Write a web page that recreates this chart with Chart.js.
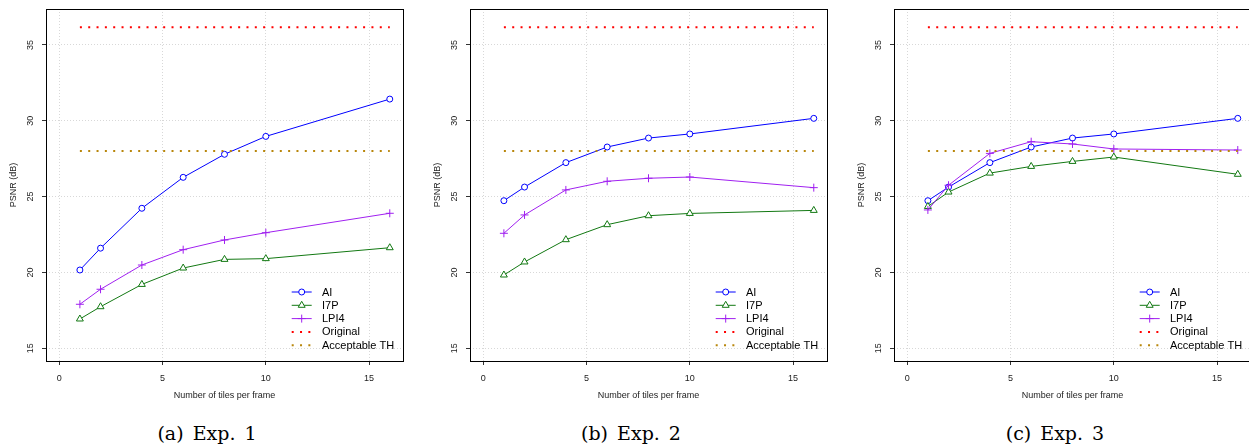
<!DOCTYPE html>
<html>
<head>
<meta charset="utf-8">
<script src="https://cdn.jsdelivr.net/npm/chart.js@4/dist/chart.umd.min.js"></script>
<style>
  html, body { margin: 0; padding: 0; background: #fff; }
  body { width: 1249px; height: 447px; overflow: hidden; position: relative; }
  .panel { position: absolute; top: 0; width: 424px; height: 447px; }
  .panel canvas { position: absolute; left: 0; top: 0; }
  .caption { position: absolute; left: 0; width: 414px; top: 422px; text-align: center;
    font-family: "DejaVu Serif", "Liberation Serif", serif; font-size: 19px; line-height: 23px;
    color: #000; word-spacing: 3px; }
</style>
</head>
<body>
<div class="panel" style="left:0px"><canvas id="c1" width="424" height="410"></canvas><div class="caption">(a) Exp. 1</div></div>
<div class="panel" style="left:424px"><canvas id="c2" width="424" height="410"></canvas><div class="caption">(b) Exp. 2</div></div>
<div class="panel" style="left:848px"><canvas id="c3" width="424" height="410"></canvas><div class="caption">(c) Exp. 3</div></div>
<script>
// ---- data ----
const tiles = [1, 2, 4, 6, 8, 10, 16];
const exp1AI   = [20.16, 21.60, 24.23, 26.27, 27.79, 28.97, 31.43];
const exp1I7P  = [16.93, 17.74, 19.21, 20.29, 20.86, 20.91, 21.63];
const exp1LPI4 = [17.90, 18.89, 20.49, 21.50, 22.14, 22.62, 23.90];
const exp2AI   = [24.73, 25.63, 27.24, 28.27, 28.86, 29.13, 30.16];
const exp2I7P  = [19.83, 20.69, 22.16, 23.15, 23.74, 23.89, 24.09];
const exp2LPI4 = [22.58, 23.79, 25.44, 26.01, 26.21, 26.29, 25.59];
const exp3AI   = [24.73, 25.63, 27.24, 28.27, 28.86, 29.13, 30.16];
const exp3I7P  = [24.35, 25.30, 26.55, 26.99, 27.32, 27.61, 26.47];
const exp3LPI4 = [24.12, 25.75, 27.85, 28.62, 28.47, 28.14, 28.07];
const originalPSNR = 36.16;
const acceptableTH = 28.0;
const xTicks = [0, 5, 10, 15];
const yTicks = [15, 20, 25, 30, 35];
const seriesNames = ['AI', 'I7P', 'LPI4', 'Original', 'Acceptable TH'];

// ---- styles ----
const FONT = '"Liberation Sans", Arial, Helvetica, sans-serif';
const COLORS = { AI: '#0000ff', I7P: '#127812', LPI4: '#a020f0', Original: '#ff0000', TH: '#b8860b' };
const DOT = [2, 6.33];

function xy(ys) { return tiles.map((t, i) => ({ x: t, y: ys[i] })); }
function flat(v) { return [{ x: tiles[0], y: v }, { x: tiles[tiles.length - 1], y: v }]; }

function drawMarker(ctx, style, x, y, color) {
  ctx.save();
  ctx.strokeStyle = color; ctx.lineWidth = 1; ctx.fillStyle = '#fff';
  ctx.setLineDash([]);
  ctx.beginPath();
  if (style === 'circle') {
    ctx.arc(x, y, 3, 0, Math.PI * 2); ctx.fill(); ctx.stroke();
  } else if (style === 'triangle') {
    const r = 4;
    ctx.moveTo(x, y - r);
    ctx.lineTo(x + r * Math.sin(2 * Math.PI / 3), y - r * Math.cos(2 * Math.PI / 3));
    ctx.lineTo(x + r * Math.sin(4 * Math.PI / 3), y - r * Math.cos(4 * Math.PI / 3));
    ctx.closePath(); ctx.fill(); ctx.stroke();
  } else if (style === 'cross') {
    ctx.moveTo(x - 4, y); ctx.lineTo(x + 4, y);
    ctx.moveTo(x, y - 4); ctx.lineTo(x, y + 4); ctx.stroke();
  }
  ctx.restore();
}

const decor = {
  id: 'decor',
  afterDraw(chart) {
    const { ctx, chartArea: ca, scales } = chart;
    ctx.save();
    // box
    ctx.strokeStyle = '#000'; ctx.lineWidth = 1; ctx.setLineDash([]);
    ctx.strokeRect(ca.left + 0.5, ca.top + 0.5, ca.right - ca.left, ca.bottom - ca.top);
    // rotated y tick labels
    ctx.fillStyle = '#222'; ctx.font = '9px ' + FONT;
    ctx.textAlign = 'center'; ctx.textBaseline = 'middle';
    scales.y.ticks.forEach(t => {
      const py = scales.y.getPixelForValue(t.value);
      ctx.save(); ctx.translate(ca.left - 15, py); ctx.rotate(-Math.PI / 2);
      ctx.fillText(String(t.value), 0, 0); ctx.restore();
    });
    // legend
    const entries = [
      { name: seriesNames[0], color: COLORS.AI, marker: 'circle', dash: [] },
      { name: seriesNames[1], color: COLORS.I7P, marker: 'triangle', dash: [] },
      { name: seriesNames[2], color: COLORS.LPI4, marker: 'cross', dash: [] },
      { name: seriesNames[3], color: COLORS.Original, marker: null, dash: DOT },
      { name: seriesNames[4], color: COLORS.TH, marker: null, dash: DOT }
    ];
    const x0 = ca.right - 111.3, x1 = ca.right - 91.3;
    entries.forEach((e, i) => {
      const yc = ca.bottom - 69 + i * 13.3;
      ctx.save();
      ctx.strokeStyle = e.color;
      ctx.lineWidth = e.marker ? 1 : 2;
      ctx.lineCap = 'butt';
      ctx.setLineDash(e.dash);
      ctx.beginPath(); ctx.moveTo(x0, yc); ctx.lineTo(x1, yc); ctx.stroke();
      ctx.restore();
      if (e.marker) drawMarker(ctx, e.marker, (x0 + x1) / 2, yc, e.color);
      ctx.fillStyle = '#000'; ctx.font = '11px ' + FONT;
      ctx.textAlign = 'left'; ctx.textBaseline = 'middle';
      ctx.fillText(e.name, ca.right - 81, yc + 0.5);
    });
    ctx.restore();
  }
};

function makeChart(id, ai, i7p, lpi4) {
  const line = (label, data, color, style, order) => ({
    label, data, borderColor: color, borderWidth: 1, order,
    pointStyle: style, pointRadius: style === 'triangle' ? 4 : (style === 'cross' ? 4 : 3),
    pointBorderColor: color, pointBackgroundColor: style === 'cross' ? color : '#fff',
    pointBorderWidth: 1, tension: 0, fill: false
  });
  const ref = (label, v, color, order) => ({
    label, data: flat(v), borderColor: color, borderWidth: 2, borderDash: DOT,
    borderCapStyle: 'butt', pointRadius: 0, order, fill: false
  });
  new Chart(document.getElementById(id), {
    type: 'line',
    data: {
      datasets: [
        line(seriesNames[0], xy(ai), COLORS.AI, 'circle', 5),
        line(seriesNames[1], xy(i7p), COLORS.I7P, 'triangle', 4),
        line(seriesNames[2], xy(lpi4), COLORS.LPI4, 'cross', 3),
        ref(seriesNames[3], originalPSNR, COLORS.Original, 2),
        ref(seriesNames[4], acceptableTH, COLORS.TH, 1)
      ]
    },
    options: {
      responsive: false, animation: false, devicePixelRatio: 1,
      layout: { padding: { left: 0, top: 9, right: 21, bottom: 0 } },
      plugins: { legend: { display: false }, tooltip: { enabled: false } },
      scales: {
        x: {
          type: 'linear', min: -0.64, max: 16.64,
          afterBuildTicks: s => { s.ticks = xTicks.map(v => ({ value: v })); },
          afterFit: s => { s.height = 49; },
          grid: { color: '#d8d8d8', lineWidth: 1, drawTicks: true, tickLength: 4,
                  tickColor: '#333', tickBorderDash: [], tickWidth: 1 },
          border: { display: false, dash: [1, 2] },
          ticks: { font: { family: FONT, size: 9 }, color: '#222', padding: 8, maxRotation: 0, autoSkip: false },
          title: { display: true, text: 'Number of tiles per frame', font: { family: FONT, size: 9 },
                   color: '#222', padding: { top: 0, bottom: 9 } }
        },
        y: {
          type: 'linear', min: 14.16, max: 37.37,
          afterBuildTicks: s => { s.ticks = yTicks.map(v => ({ value: v })); },
          afterFit: s => { s.width = 46; },
          grid: { color: '#d8d8d8', lineWidth: 1, drawTicks: true, tickLength: 4,
                  tickColor: '#333', tickBorderDash: [], tickWidth: 1 },
          border: { display: false, dash: [1, 2] },
          ticks: { display: false },
          title: { display: true, text: 'PSNR (dB)', font: { family: FONT, size: 9 },
                   color: '#222', padding: { top: 8, bottom: 0 } }
        }
      }
    },
    plugins: [decor]
  });
}

makeChart('c1', exp1AI, exp1I7P, exp1LPI4);
makeChart('c2', exp2AI, exp2I7P, exp2LPI4);
makeChart('c3', exp3AI, exp3I7P, exp3LPI4);
</script>
</body>
</html>
